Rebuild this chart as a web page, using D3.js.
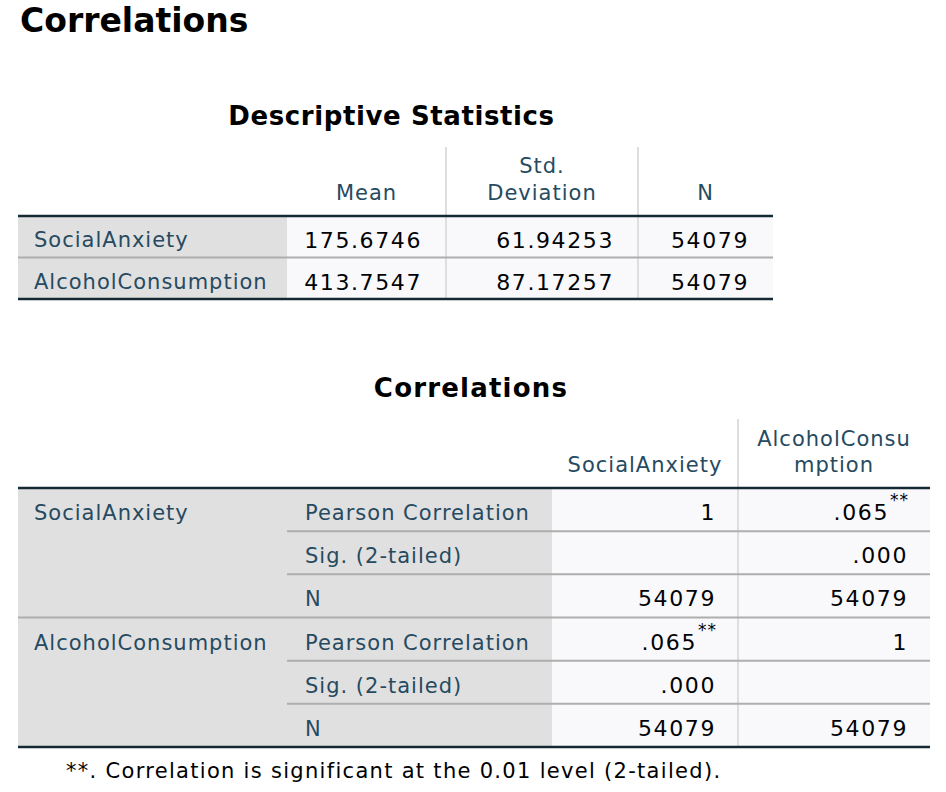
<!DOCTYPE html>
<html>
<head>
<meta charset="utf-8">
<script src="https://cdn.jsdelivr.net/npm/d3@7"></script>
<style>
  html, body { margin: 0; padding: 0; background: #ffffff; }
  svg { display: block; }
</style>
</head>
<body>
<svg id="chart" width="946" height="792"></svg>
<script>
// ---------- data ----------
const pageTitle = "Correlations";
const descTitle = "Descriptive Statistics";
const descVars = ["SocialAnxiety", "AlcoholConsumption"];
const descColumns = [["Mean"], ["Std.", "Deviation"], ["N"]];
const descMeans = ["175.6746", "413.7547"];
const descSDs = ["61.94253", "87.17257"];
const descNs = ["54079", "54079"];

const corrTitle = "Correlations";
const corrVars = ["SocialAnxiety", "AlcoholConsumption"];
const corrColumns = [["SocialAnxiety"], ["AlcoholConsu", "mption"]];
const corrStats = ["Pearson Correlation", "Sig. (2-tailed)", "N"];
// rows = variable, cols = corrVars
const corrPearson = [["1", ".065"], [".065", "1"]];
const corrPearsonSig = [["", "**"], ["**", ""]];
const corrSig = [["", ".000"], [".000", ""]];
const corrN = [["54079", "54079"], ["54079", "54079"]];
const footnote = "**. Correlation is significant at the 0.01 level (2-tailed).";

// ---------- style ----------
const C = {
  label: "#264A60", num: "#010205", thick: "#152935", rule: "#AEAEAE",
  vline: "#DEDEDE", labelBg: "#E0E0E0", cellBg: "#F9F9FB"
};
const FONT = "'DejaVu Sans', sans-serif";
const svg = d3.select("#chart");

function txt(g, x, y, s, o = {}) {
  return g.append("text").attr("x", x).attr("y", y).text(s)
    .attr("font-family", FONT)
    .attr("font-size", o.size || 21)
    .attr("font-weight", o.weight || "normal")
    .attr("letter-spacing", o.ls != null ? o.ls : 1)
    .attr("fill", o.fill || C.label)
    .attr("text-anchor", o.anchor || "start");
}
function hline(g, x1, x2, y, col, w) {
  g.append("line").attr("x1", x1).attr("x2", x2).attr("y1", y).attr("y2", y)
    .attr("stroke", col).attr("stroke-width", w);
}
function vline(g, x, y1, y2, col, w) {
  g.append("line").attr("x1", x).attr("x2", x).attr("y1", y1).attr("y2", y2)
    .attr("stroke", col).attr("stroke-width", w);
}

// Page title
txt(svg, 20, 32, pageTitle, { size: 33, weight: "bold", ls: 0, fill: "#000" });

// ---------- Table 1: Descriptive Statistics ----------
{
  const g = svg.append("g");
  const left = 18, right = 773;
  const headTop = 147, headBottom = 216, bottom = 299;
  const colEdges = [left, 287, 446, 638, right];
  const y = d3.scaleBand().domain(descVars).range([headBottom, bottom]);
  const cols = [descMeans, descSDs, descNs];

  txt(g, (left + right) / 2 - 4, 125, descTitle, { size: 26, weight: "bold", ls: 0.6, fill: "#000", anchor: "middle" });

  g.append("rect").attr("x", left).attr("y", headBottom).attr("width", colEdges[1] - left)
    .attr("height", bottom - headBottom).attr("fill", C.labelBg);
  g.append("rect").attr("x", colEdges[1]).attr("y", headBottom).attr("width", right - colEdges[1])
    .attr("height", bottom - headBottom).attr("fill", C.cellBg);

  [colEdges[2], colEdges[3]].forEach(x => vline(g, x, headTop, bottom, C.vline, 2));

  descColumns.forEach((lines, i) => {
    const cx = (colEdges[i + 1] + colEdges[i + 2]) / 2;
    lines.forEach((ln, j) => {
      txt(g, cx, 200 - (lines.length - 1 - j) * 27, ln, { anchor: "middle" });
    });
  });

  descVars.forEach((v, r) => {
    const top = y(v);
    txt(g, 34, top + 31, v);
    cols.forEach((col, i) => {
      txt(g, colEdges[i + 2] - 24, top + 32, col[r], { size: 22, ls: 1.6, fill: C.num, anchor: "end" });
    });
    if (r > 0) hline(g, left, right, top, C.rule, 2);
  });

  hline(g, left, right, headBottom, C.thick, 2.5);
  hline(g, left, right, bottom, C.thick, 2.5);
}

// ---------- Table 2: Correlations ----------
{
  const g = svg.append("g");
  const left = 18, right = 930;
  const headTop = 419, headBottom = 488, bottom = 747;
  const colEdges = [left, 287, 552, 738, right];
  const rowKeys = [];
  corrVars.forEach(v => corrStats.forEach(s => rowKeys.push(v + "|" + s)));
  const y = d3.scaleBand().domain(rowKeys).range([headBottom, bottom]);

  txt(g, (left + right) / 2 - 3, 397, corrTitle, { size: 26, weight: "bold", ls: 1.2, fill: "#000", anchor: "middle" });

  g.append("rect").attr("x", left).attr("y", headBottom).attr("width", colEdges[2] - left)
    .attr("height", bottom - headBottom).attr("fill", C.labelBg);
  g.append("rect").attr("x", colEdges[2]).attr("y", headBottom).attr("width", right - colEdges[2])
    .attr("height", bottom - headBottom).attr("fill", C.cellBg);

  vline(g, colEdges[3], headTop, bottom, C.vline, 2);

  corrColumns.forEach((lines, i) => {
    const cx = (colEdges[i + 2] + colEdges[i + 3]) / 2;
    lines.forEach((ln, j) => {
      txt(g, cx, 472 - (lines.length - 1 - j) * 26, ln, { anchor: "middle" });
    });
  });

  const statData = [
    [corrPearson, corrPearsonSig],
    [corrSig, null],
    [corrN, null]
  ];

  corrVars.forEach((v, vi) => {
    const groupTop = y(v + "|" + corrStats[0]);
    txt(g, 34, groupTop + 32, v);
    if (vi > 0) hline(g, left, right, groupTop, C.rule, 2);
    corrStats.forEach((s, si) => {
      const top = y(v + "|" + s);
      txt(g, 305, top + 32, s);
      if (si > 0) hline(g, colEdges[1], right, top, C.rule, 2);
      const [vals, sups] = statData[si];
      corrVars.forEach((cv, ci) => {
        const xr = colEdges[ci + 3] - 22;
        const sup = sups ? sups[vi][ci] : "";
        let xEnd = xr;
        if (sup) {
          txt(g, xr + 1, top + 18, sup, { size: 17, ls: 1, fill: C.num, anchor: "end" });
          xEnd = xr - 19;
        }
        if (vals[vi][ci]) {
          txt(g, xEnd, top + 32, vals[vi][ci], { size: 22, ls: 1.6, fill: C.num, anchor: "end" });
        }
      });
    });
  });

  hline(g, left, right, headBottom, C.thick, 2.5);
  hline(g, left, right, bottom, C.thick, 2.5);
}

// footnote
txt(svg, 66, 778, footnote, { size: 21, ls: 1.3, fill: "#000" });
</script>
</body>
</html>
